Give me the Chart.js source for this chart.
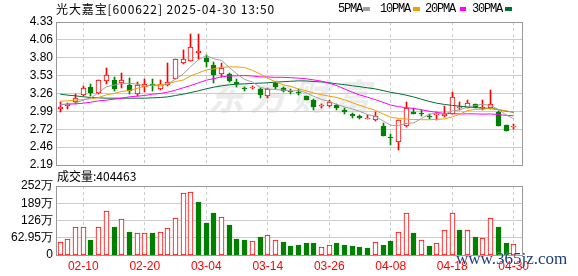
<!DOCTYPE html>
<html>
<head>
<meta charset="utf-8">
<script src="https://cdn.jsdelivr.net/npm/chart.js@4.4.1/dist/chart.umd.min.js"></script>
<style>
  body { margin: 0; background: #fff; width: 578px; height: 276px; overflow: hidden; position: relative; }
  canvas { position: absolute; left: 0; }
  #priceCanvas { top: 0; }
  #volCanvas { top: 168px; }
  .t { position: absolute; white-space: nowrap; }
  #title { left: 56px; top: 0; font: 12px "Noto Sans CJK SC", sans-serif; letter-spacing: 0.9px; color: #000; }
  .lg { top: 2px; font: 12px/14px "Liberation Mono", monospace; letter-spacing: -1.2px; color: #000; }
  .sw { position: absolute; top: 7px; height: 4px; }
  #volTitle { left: 57px; top: 167px; font: 12px "Noto Sans CJK SC", sans-serif; color: #000; }
  #wm { left: 208px; top: 68px; font: italic bold 36px "Noto Sans CJK SC", sans-serif; color: #ececec; letter-spacing: 6px; }
  #site { left: 456px; top: 250px; font: 17px/17px "Liberation Serif", serif; color: #1f3c7a; text-shadow: 0 0 2px #fff; z-index: 5; }
</style>
</head>
<body>
<div class="t" id="wm">东方财富</div>
<canvas id="priceCanvas" width="578" height="180"></canvas>
<canvas id="volCanvas" width="578" height="108"></canvas>
<div class="t" id="title">光大嘉宝[600622] 2025-04-30 13:50</div>
<div class="t lg" style="left:338px">5PMA</div>
<div class="sw" style="left:363px;width:7px;background:#a0a0a0"></div>
<div class="t lg" style="left:380px">10PMA</div>
<div class="sw" style="left:413px;width:7px;background:#f0a000"></div>
<div class="t lg" style="left:425px">20PMA</div>
<div class="sw" style="left:460px;width:6px;background:#ff00ff"></div>
<div class="t lg" style="left:472px">30PMA</div>
<div class="sw" style="left:505px;width:7px;background:#006f35"></div>
<div class="t" id="volTitle">成交量:404463</div>
<div class="t" id="site">www.365jz.com</div>

<script>
// 交易日 2025-02-05 ~ 2025-04-30
const dates = ["02-05","02-06","02-07","02-10","02-11","02-12","02-13","02-14","02-17","02-18",
  "02-19","02-20","02-21","02-24","02-25","02-26","02-27","02-28","03-03","03-04",
  "03-05","03-06","03-07","03-10","03-11","03-12","03-13","03-14","03-17","03-18",
  "03-19","03-20","03-21","03-24","03-25","03-26","03-27","03-28","03-31","04-01",
  "04-02","04-03","04-07","04-08","04-09","04-10","04-11","04-14","04-15","04-16",
  "04-17","04-18","04-21","04-22","04-23","04-24","04-25","04-28","04-29","04-30"];

const open = [3.03,3.08,3.13,3.24,3.35,3.27,3.44,3.46,3.41,3.38,
  3.26,3.36,3.40,3.33,3.38,3.48,3.71,3.75,3.87,3.79,
  3.68,3.55,3.55,3.43,3.34,3.34,3.32,3.22,3.41,3.34,
  3.30,3.28,3.22,3.16,3.07,3.07,3.09,3.02,2.95,2.92,
  2.88,2.86,2.78,2.60,2.54,2.78,2.99,2.97,2.93,2.94,
  2.92,2.96,3.04,3.05,3.10,3.04,3.04,2.99,2.79,2.76];
const high = [3.14,3.12,3.25,3.37,3.40,3.46,3.64,3.50,3.57,3.49,
  3.43,3.47,3.48,3.46,3.72,3.78,3.91,4.15,4.15,3.84,
  3.73,3.72,3.57,3.48,3.36,3.37,3.34,3.34,3.43,3.36,
  3.32,3.32,3.23,3.18,3.10,3.16,3.11,3.04,2.97,2.94,
  2.94,2.99,2.82,2.66,2.87,3.13,3.04,3.01,2.96,2.98,
  3.07,3.28,3.13,3.17,3.10,3.16,3.31,3.00,2.79,2.81];
const low = [2.98,3.03,3.10,3.23,3.22,3.26,3.40,3.30,3.34,3.26,
  3.23,3.28,3.29,3.31,3.37,3.47,3.70,3.74,3.78,3.66,
  3.41,3.50,3.43,3.35,3.30,3.32,3.19,3.20,3.32,3.28,
  3.25,3.24,3.16,3.02,3.04,3.06,3.01,2.96,2.90,2.88,
  2.88,2.85,2.63,2.49,2.41,2.76,2.95,2.93,2.88,2.87,
  2.91,2.95,3.01,3.04,3.05,3.02,3.03,2.78,2.70,2.73];
const close = [3.06,3.10,3.20,3.34,3.27,3.46,3.53,3.33,3.46,3.29,
  3.39,3.40,3.38,3.40,3.43,3.77,3.77,3.96,3.90,3.73,
  3.54,3.64,3.44,3.40,3.33,3.35,3.24,3.32,3.35,3.30,
  3.28,3.27,3.17,3.06,3.08,3.13,3.04,2.98,2.92,2.89,
  2.89,2.92,2.63,2.59,2.87,3.05,2.96,2.96,2.91,2.95,
  2.96,3.21,3.05,3.12,3.06,3.06,3.10,2.78,2.70,2.77];

const ma5 = [3.09,3.10,3.12,3.16,3.194,3.274,3.36,3.386,3.41,3.414,
  3.40,3.374,3.384,3.372,3.40,3.476,3.55,3.666,3.766,3.826,
  3.78,3.754,3.65,3.55,3.47,3.432,3.352,3.328,3.318,3.312,
  3.298,3.304,3.274,3.216,3.172,3.142,3.096,3.058,3.03,2.992,
  2.944,2.92,2.85,2.784,2.78,2.812,2.82,2.886,2.95,2.966,
  2.948,2.998,3.016,3.058,3.08,3.10,3.078,3.024,2.94,2.882];
const ma10 = [3.145,3.15,3.16,3.17,3.18,3.20,3.24,3.26,3.29,3.304,
  3.337,3.367,3.385,3.391,3.407,3.438,3.462,3.525,3.569,3.613,
  3.628,3.652,3.658,3.658,3.648,3.606,3.553,3.489,3.434,3.391,
  3.365,3.328,3.301,3.267,3.242,3.22,3.20,3.166,3.123,3.082,
  3.043,3.008,2.954,2.907,2.886,2.878,2.87,2.868,2.867,2.873,
  2.88,2.909,2.951,3.004,3.023,3.024,3.038,3.02,2.999,2.981];
const ma20 = [3.096,3.10,3.105,3.115,3.13,3.15,3.16,3.175,3.19,3.21,
  3.22,3.23,3.25,3.26,3.28,3.31,3.345,3.38,3.42,3.459,
  3.483,3.51,3.522,3.525,3.528,3.522,3.508,3.507,3.502,3.502,
  3.497,3.49,3.48,3.463,3.445,3.413,3.377,3.328,3.279,3.237,
  3.204,3.168,3.128,3.087,3.064,3.049,3.035,3.017,2.995,2.978,
  2.962,2.959,2.953,2.956,2.955,2.951,2.954,2.944,2.933,2.927];
const ma30 = [3.25,3.235,3.225,3.21,3.20,3.195,3.19,3.19,3.19,3.19,
  3.19,3.19,3.195,3.20,3.21,3.23,3.25,3.275,3.30,3.33,
  3.355,3.375,3.39,3.40,3.405,3.41,3.415,3.42,3.43,3.436,
  3.443,3.449,3.448,3.439,3.432,3.421,3.405,3.393,3.375,3.362,
  3.345,3.329,3.304,3.277,3.259,3.235,3.208,3.174,3.141,3.115,
  3.096,3.082,3.069,3.059,3.05,3.041,3.036,3.018,2.996,2.979];

// 成交量（万）
const volume = [47.3,57,100.6,104,54.5,104,158.8,101.8,129.7,83.6,
  78.8,78.8,80,82.4,97,133.3,227.9,231.5,192.7,117.6,
  152.7,137,109,58.2,54.5,50.9,65.4,71.5,53.3,48.5,
  32.7,35.1,43.6,43.6,27.9,35.1,43.6,36.4,32.7,29.1,
  25.5,47.3,36.4,50.9,83.6,151.5,81.2,54.5,32.7,43.6,
  89.7,151.5,90.9,89.7,65.4,60.6,133.3,101.8,43.6,40.4463];
// 1 = 收涨（红），0 = 收跌（绿）
const volUp = [1,1,1,1,0,1,1,0,1,0, 1,1,0,1,1,1,1,1,0,0,
  0,1,0,0,0,1,0,1,1,0, 0,0,0,0,1,1,0,0,0,0,
  0,1,0,0,1,1,0,1,0,1, 1,1,0,1,0,1,1,0,0,1];

const priceTicks = [2.19,2.4575,2.725,2.9925,3.26,3.5275,3.795,4.0625,4.33];
const priceTickLabels = ["2.19","2.46","2.72","2.99","3.26","3.53","3.80","4.06","4.33"];
const volTicks = [0,62.95,125.9,188.85,251.8];
const volTickLabels = ["0","62.95万","126万","189万","252万"];
const dateTickIdx = [3,11,19,27,35,43,51,59];

const RED = "#ff0000", GREEN = "#008000";

Chart.defaults.font.family = "'Liberation Sans', Arial, sans-serif";
Chart.defaults.font.size = 12;

// 柱子对齐到整像素，并画外框
const framePlugin = {
  id: "frame",
  beforeDatasetsDraw(chart) {
    chart.getSortedVisibleDatasetMetas().forEach(meta => {
      if (meta.type !== "bar") return;
      meta.data.forEach(el => {
        el.x = Math.floor(el.x) + (el.width % 2 ? 0.5 : 0);
        el.y = Math.round(el.y);
        el.base = Math.round(el.base);
        if (Math.abs(el.y - el.base) < 1) el.base = el.y + 1;
      });
    });
  },
  afterDraw(chart) {
    const { ctx, chartArea: a } = chart;
    ctx.save();
    ctx.strokeStyle = "#999";
    ctx.lineWidth = 1;
    ctx.strokeRect(a.left + 0.5, a.top + 0.5, a.right - a.left, a.bottom - a.top);
    ctx.restore();
  }
};

function xScale(showLabels) {
  return {
    type: "linear",
    offset: false,
    min: -0.546,
    max: 60.08,
    afterBuildTicks: s => { s.ticks = dateTickIdx.map(v => ({ value: v })); },
    ticks: {
      display: showLabels,
      autoSkip: false,
      maxRotation: 0,
      color: RED,
      padding: 4,
      callback: v => dates[v]
    },
    grid: { color: "#cccccc", drawTicks: false, offset: false },
    border: { display: false, dash: [3, 3] },
    afterFit: s => { s.height = showLabels ? 21 : 0; }
  };
}

const pts = arr => arr.map((v, i) => ({ x: i, y: v }));
const maLine = (label, arr, color) => ({
  type: "line", label, data: pts(arr), borderColor: color, borderWidth: 1,
  pointRadius: 0, tension: 0, order: 0
});

new Chart(document.getElementById("priceCanvas"), {
  data: {
    datasets: [
      maLine("5PMA", ma5, "#a0a0a0"),
      maLine("10PMA", ma10, "#f0a000"),
      maLine("20PMA", ma20, "#ff00ff"),
      maLine("30PMA", ma30, "#006f35"),
      {
        type: "bar", label: "body",
        data: open.map((o, i) => ({ x: i, y: [o, close[i]] })),
        backgroundColor: open.map((o, i) => close[i] > o ? "#ffffff" : GREEN),
        borderColor: open.map((o, i) => close[i] > o ? RED : GREEN),
        borderWidth: 1, borderSkipped: false, barThickness: 5, minBarLength: 1,
        grouped: false, order: 1
      },
      {
        type: "bar", label: "wick",
        data: low.map((l, i) => ({ x: i, y: [l, high[i]] })),
        backgroundColor: open.map((o, i) => close[i] > o ? RED : GREEN),
        borderWidth: 0, barThickness: 1, grouped: false, order: 2
      }
    ]
  },
  options: {
    responsive: false,
    animation: false,
    devicePixelRatio: 1,
    events: [],
    layout: { padding: { left: 0, right: 56, top: 22, bottom: 15 } },
    plugins: { legend: { display: false }, tooltip: { enabled: false } },
    scales: {
      x: xScale(false),
      y: {
        min: 2.19, max: 4.33,
        afterBuildTicks: s => { s.ticks = priceTicks.map(v => ({ value: v })); },
        ticks: { autoSkip: false, color: "#000", padding: 3, callback: (v, i) => priceTickLabels[i] },
        grid: { color: "#cccccc", drawTicks: false },
        border: { display: false },
        afterFit: s => { s.width = 56; }
      }
    }
  },
  plugins: [framePlugin]
});

new Chart(document.getElementById("volCanvas"), {
  data: {
    datasets: [{
      type: "bar", label: "成交量",
      data: pts(volume),
      backgroundColor: volUp.map(u => u ? "#ffffff" : GREEN),
      borderColor: volUp.map(u => u ? RED : GREEN),
      borderWidth: 1, borderSkipped: false, barThickness: 5, grouped: false
    }]
  },
  options: {
    responsive: false,
    animation: false,
    devicePixelRatio: 1,
    events: [],
    layout: { padding: { left: 0, right: 56, top: 18, bottom: 0 } },
    plugins: { legend: { display: false }, tooltip: { enabled: false } },
    scales: {
      x: xScale(true),
      y: {
        min: 0, max: 251.8,
        afterBuildTicks: s => { s.ticks = volTicks.map(v => ({ value: v })); },
        ticks: { autoSkip: false, color: "#000", padding: 3, callback: (v, i) => volTickLabels[i] },
        grid: { color: "#cccccc", drawTicks: false },
        border: { display: false },
        afterFit: s => { s.width = 56; }
      }
    }
  },
  plugins: [framePlugin]
});
</script>
</body>
</html>
